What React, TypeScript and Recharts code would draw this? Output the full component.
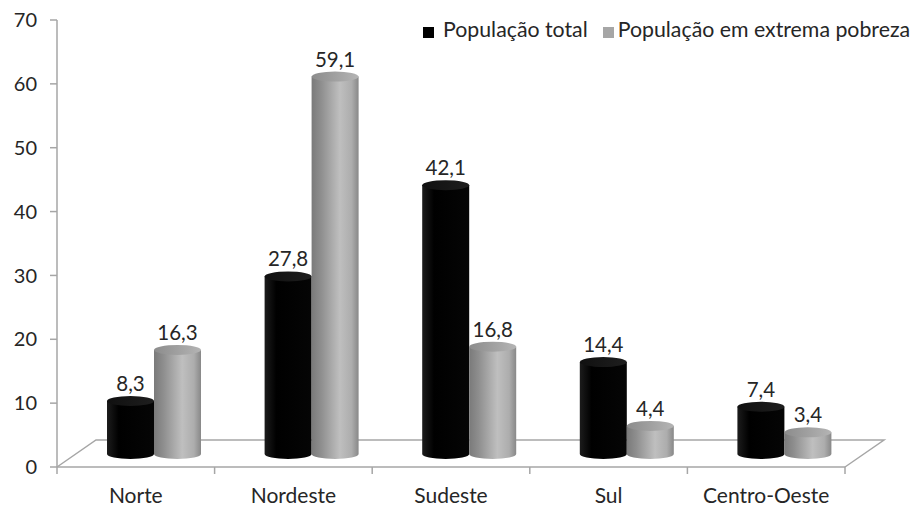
import React from 'react';
import { BarChart, Bar, XAxis, YAxis, Legend, LabelList, Customized } from 'recharts';

const categories = ['Norte', 'Nordeste', 'Sudeste', 'Sul', 'Centro-Oeste'];
const populacaoTotal = [8.3, 27.8, 42.1, 14.4, 7.4];
const extremaPobreza = [16.3, 59.1, 16.8, 4.4, 3.4];
const yTicks = [0, 10, 20, 30, 40, 50, 60, 70];
const seriesNames = ['População total', 'População em extrema pobreza'];

const data = categories.map((c, i) => ({ name: c, total: populacaoTotal[i], pobreza: extremaPobreza[i] }));

const W = 915;
const H = 506;
const M = { top: 20, right: 70, left: 0, bottom: 0 };
const YW = 57;
const XH = 39;
const FLOOR_DX = 39;
const FLOOR_DY = -27;
const DX = 18;
const DY = -13;
const RY = 5;
const FONT = 'Lato, "Open Sans", sans-serif';
const TEXT = '#262626';
const LINE = '#a6a6a6';

const fmt = (v: number) => v.toFixed(1).replace('.', ',');

const palettes: Record<string, { body: [number, string][]; top: [number, string][] }> = {
  total: {
    body: [[0, '#1c1c1c'], [0.25, '#000000'], [1, '#050505']],
    top: [[0, '#101010'], [1, '#1e1e1e']],
  },
  pobreza: {
    body: [[0, '#7a7a7a'], [0.2, '#8e8e8e'], [0.6, '#bfbfbf'], [0.85, '#adadad'], [1, '#888888']],
    top: [[0, '#8c8c8c'], [1, '#b4b4b4']],
  },
};

function makeCylinder(key: string) {
  return (props: any) => {
    const { x, y, width, height, index } = props;
    if (width == null || height == null) return null;
    const pal = palettes[key];
    const x0 = x + DX;
    const yt = y + DY;
    const yb = y + height + DY;
    const rx = width / 2;
    const idB = `b-${key}-${index}`;
    const idT = `t-${key}-${index}`;
    const d = `M${x0},${yt} L${x0},${yb} A${rx},${RY} 0 0 0 ${x0 + width},${yb} L${x0 + width},${yt} Z`;
    return (
      <g>
        <defs>
          <linearGradient id={idB} x1="0" y1="0" x2="1" y2="0">
            {pal.body.map(([o, c], i) => <stop key={i} offset={o} stopColor={c} />)}
          </linearGradient>
          <linearGradient id={idT} x1="0" y1="0" x2="1" y2="0">
            {pal.top.map(([o, c], i) => <stop key={i} offset={o} stopColor={c} />)}
          </linearGradient>
        </defs>
        <path d={d} fill={`url(#${idB})`} />
        <ellipse cx={x0 + rx} cy={yt} rx={rx} ry={RY} fill={`url(#${idT})`} />
      </g>
    );
  };
}

const renderLabel = (p: any) => {
  const { x, y, width, value } = p;
  return (
    <text x={x + width / 2 + DX} y={y + DY - RY - 5} textAnchor="middle" fontFamily={FONT} fontSize={20.5} fill={TEXT}>
      {fmt(value)}
    </text>
  );
};

function Floor() {
  const x1 = M.left + YW;
  const x2 = W - M.right;
  const yf = H - M.bottom - XH;
  const n = categories.length;
  const step = (x2 - x1) / n;
  const ticks = Array.from({ length: n + 1 }, (_, i) => x1 + i * step);
  return (
    <g>
      <polyline
        points={`${x1},${yf} ${x1 + FLOOR_DX},${yf + FLOOR_DY} ${x2 + FLOOR_DX},${yf + FLOOR_DY} ${x2},${yf}`}
        fill="none"
        stroke={LINE}
        strokeWidth={1.5}
      />
      {ticks.map((t, i) => (
        <line key={i} x1={t} y1={yf} x2={t} y2={yf + 7} stroke={LINE} strokeWidth={1.5} />
      ))}
    </g>
  );
}

const LegendContent = () => (
  <div style={{ display: 'flex', alignItems: 'center', fontFamily: FONT, fontSize: 21.3, lineHeight: '24px', color: TEXT, whiteSpace: 'nowrap' }}>
    <span style={{ display: 'inline-block', width: 11, height: 11, background: '#000', marginRight: 9, position: 'relative', top: 3 }} />
    <span style={{ marginRight: 15 }}>{seriesNames[0]}</span>
    <span style={{ display: 'inline-block', width: 11, height: 11, background: '#a6a6a6', marginRight: 4, position: 'relative', top: 3 }} />
    <span>{seriesNames[1]}</span>
  </div>
);

export default function App() {
  return (
    <div style={{ position: 'absolute', left: 0, top: 0, width: W, height: H, background: '#fff' }}>
      <BarChart width={W} height={H} data={data} margin={M} barGap={0} barSize={47}>
        <Customized component={Floor} />
        <XAxis
          dataKey="name"
          height={XH}
          axisLine={{ stroke: LINE, strokeWidth: 1.5 }}
          tickLine={false}
          tickSize={6}
          tickMargin={15}
          tick={{ fontFamily: FONT, fontSize: 21, fill: TEXT }}
          interval={0}
        />
        <YAxis
          width={YW}
          domain={[0, 70]}
          ticks={yTicks}
          interval={0}
          axisLine={{ stroke: LINE, strokeWidth: 1.5 }}
          tickLine={{ stroke: LINE, strokeWidth: 1.5 }}
          tickSize={7}
          tickMargin={13}
          tick={{ fontFamily: FONT, fontSize: 20, fill: TEXT }}
        />
        <Legend
          layout="horizontal"
          verticalAlign="middle"
          align="center"
          wrapperStyle={{ top: 17, left: 423, width: 500, height: 26 }}
          content={LegendContent}
        />
        <Bar dataKey="total" name={seriesNames[0]} fill="#000" isAnimationActive={false} shape={makeCylinder('total')}>
          <LabelList dataKey="total" content={renderLabel} />
        </Bar>
        <Bar dataKey="pobreza" name={seriesNames[1]} fill="#a6a6a6" isAnimationActive={false} shape={makeCylinder('pobreza')}>
          <LabelList dataKey="pobreza" content={renderLabel} />
        </Bar>
      </BarChart>
    </div>
  );
}
